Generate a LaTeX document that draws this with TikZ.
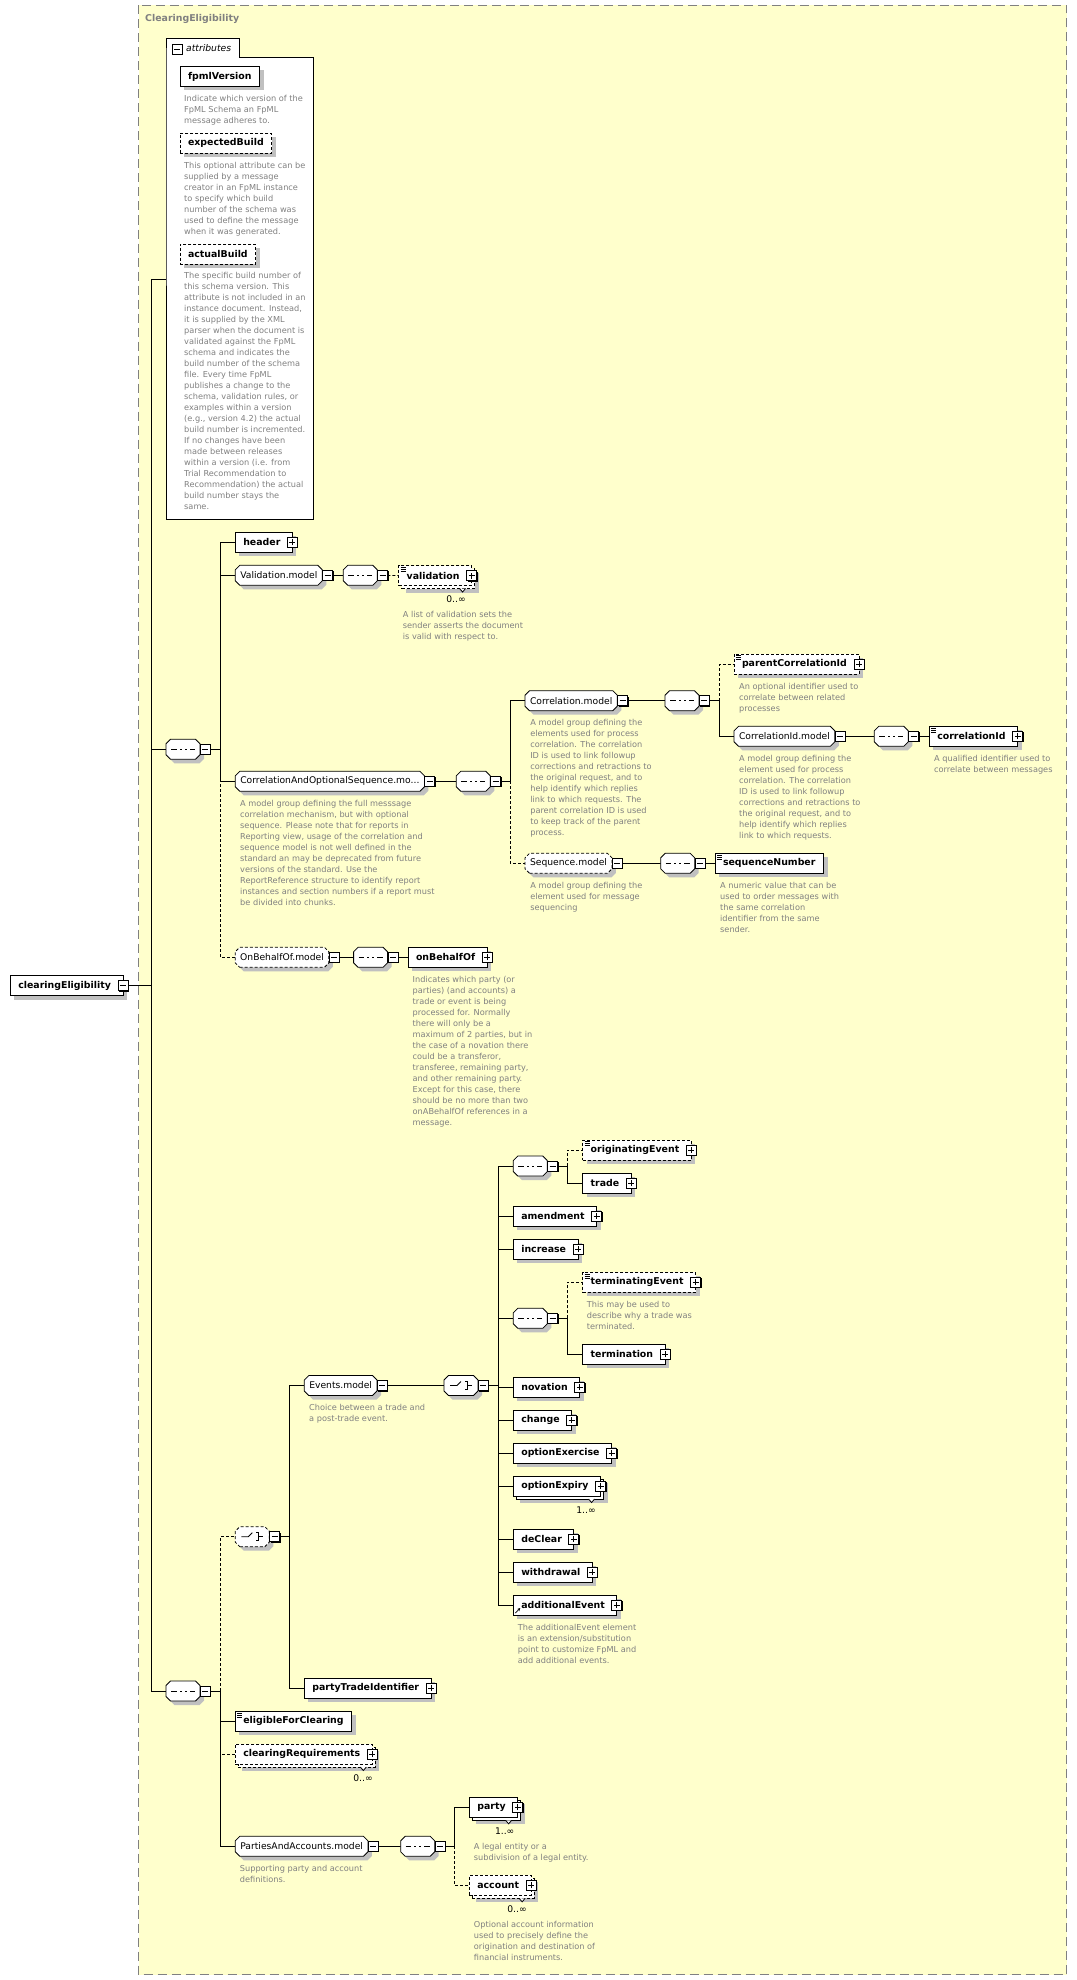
\documentclass[tikz,border=0pt]{standalone}
\usepackage{fontspec}
\setmainfont{DejaVu Sans}
\usetikzlibrary{shadows,arrows.meta}

\definecolor{bgyellow}{HTML}{FFFFCC}
\definecolor{shgray}{HTML}{C0C0C0}
\definecolor{txgray}{HTML}{808080}
\newcommand\elemfont{\fontsize{9.4pt}{11pt}\selectfont\bfseries}
\newcommand\modelfont{\fontsize{9.2pt}{11pt}\selectfont}
\newcommand\notefont{\fontsize{8.2pt}{11pt}\selectfont}
\pgfdeclarelayer{back}
\pgfdeclarelayer{wires}
\pgfsetlayers{back,wires,main}

% octagon used for model groups and compositors
\makeatletter
\newdimen\octL \newdimen\octR \newdimen\octB \newdimen\octT
\pgfdeclareshape{octbox}{%
  \inheritsavedanchors[from=rectangle]%
  \inheritanchorborder[from=rectangle]%
  \inheritanchor[from=rectangle]{center}%
  \inheritanchor[from=rectangle]{north}%
  \inheritanchor[from=rectangle]{south}%
  \inheritanchor[from=rectangle]{east}%
  \inheritanchor[from=rectangle]{west}%
  \inheritanchor[from=rectangle]{north east}%
  \inheritanchor[from=rectangle]{north west}%
  \inheritanchor[from=rectangle]{south east}%
  \inheritanchor[from=rectangle]{south west}%
  \inheritanchor[from=rectangle]{text}%
  \inheritanchor[from=rectangle]{base}%
  \inheritanchor[from=rectangle]{mid}%
  \backgroundpath{%
    \southwest \octL=\pgf@x \octB=\pgf@y
    \northeast \octR=\pgf@x \octT=\pgf@y
    \pgfpathmoveto{\pgfqpoint{\dimexpr\octL+4.5pt\relax}{\octB}}%
    \pgfpathlineto{\pgfqpoint{\dimexpr\octR-4.5pt\relax}{\octB}}%
    \pgfpathlineto{\pgfqpoint{\octR}{\dimexpr\octB+4.5pt\relax}}%
    \pgfpathlineto{\pgfqpoint{\octR}{\dimexpr\octT-4.5pt\relax}}%
    \pgfpathlineto{\pgfqpoint{\dimexpr\octR-4.5pt\relax}{\octT}}%
    \pgfpathlineto{\pgfqpoint{\dimexpr\octL+4.5pt\relax}{\octT}}%
    \pgfpathlineto{\pgfqpoint{\octL}{\dimexpr\octT-4.5pt\relax}}%
    \pgfpathlineto{\pgfqpoint{\octL}{\dimexpr\octB+4.5pt\relax}}%
    \pgfpathclose
  }%
}
\makeatother

\tikzset{
  boxshadow/.style={general shadow={shadow xshift=4pt,shadow yshift=-4pt,fill=shgray}},
  repeated/.style={general shadow={shadow xshift=7pt,shadow yshift=-7pt,fill=shgray},
                   general shadow={shadow xshift=3pt,shadow yshift=-3pt,draw,fill=white}},
  optional/.style={dash pattern=on 3pt off 2pt},
  xsdbox/.style={draw, fill=white, line width=.8pt, outer sep=0pt, minimum height=20pt, inner xsep=8pt, inner ysep=0pt, anchor=west},
  elem/.style={xsdbox, boxshadow, font=\elemfont},
  elemrep/.style={xsdbox, repeated, font=\elemfont},
  modelgrp/.style={xsdbox, boxshadow, shape=octbox, inner xsep=5pt, font=\modelfont, withminus},
  plusicon/.style={draw, solid, fill=white, line width=.8pt, minimum size=10pt, inner sep=0pt, anchor=center,
    general shadow={shadow xshift=1pt,shadow yshift=-1pt,fill=black},
    path picture={\draw[line width=.8pt] ([xshift=-3pt]path picture bounding box.center) -- ([xshift=3pt]path picture bounding box.center)
      ([yshift=-3pt]path picture bounding box.center) -- ([yshift=3pt]path picture bounding box.center);}},
  minusicon/.style={draw, solid, fill=white, line width=.8pt, minimum size=10pt, inner sep=0pt,
    general shadow={shadow xshift=1pt,shadow yshift=-1pt,fill=black},
    path picture={\draw[line width=.8pt] ([xshift=-3pt]path picture bounding box.center) -- ([xshift=3pt]path picture bounding box.center);}},
  withplus/.style={execute at end node=\hspace*{4pt},
    append after command={\pgfextra{\let\hostnode\tikzlastnode} node[plusicon] at (\hostnode.east) {}}},
  withminus/.style={append after command={\pgfextra{\let\hostnode\tikzlastnode} node[minusicon, anchor=west] at (\hostnode.east) {}}},
  rootminus/.style={execute at end node=\hspace*{4pt},
    append after command={\pgfextra{\let\hostnode\tikzlastnode} node[minusicon, anchor=center] at (\hostnode.east) {}}},
  simpletype/.style={path picture={\draw[solid, line width=.6pt]
      ([shift={(2pt,-1.5pt)}]path picture bounding box.north west) -- ++(5pt,0)
      ([shift={(2pt,-3.5pt)}]path picture bounding box.north west) -- ++(5pt,0)
      ([shift={(2pt,-5.5pt)}]path picture bounding box.north west) -- ++(5pt,0);}},
  seqicon/.style={modelgrp, minimum width=34pt, inner xsep=0pt, path picture={
      \draw[solid, line width=.8pt] ([xshift=-12pt]path picture bounding box.center) -- ([xshift=12pt]path picture bounding box.center);
      \fill ([shift={(-6.5pt,-1.5pt)}]path picture bounding box.center) rectangle ++(3pt,3pt);
      \fill ([shift={(-1.5pt,-1.5pt)}]path picture bounding box.center) rectangle ++(3pt,3pt);
      \fill ([shift={(3.5pt,-1.5pt)}]path picture bounding box.center) rectangle ++(3pt,3pt);}},
  choiceicon/.style={modelgrp, minimum width=34pt, inner xsep=0pt, path picture={
      \draw[solid, line width=.8pt] ([xshift=-11pt]path picture bounding box.center) -- ([xshift=-4pt]path picture bounding box.center)
        -- ([shift={(0pt,4pt)}]path picture bounding box.center);
      \draw[solid, line width=.8pt] ([shift={(4pt,4pt)}]path picture bounding box.center) -- ++(2pt,0) -- ++(0,-8pt) -- ++(-2pt,0)
        ([xshift=6pt]path picture bounding box.center) -- ([xshift=11pt]path picture bounding box.center);
      \fill ([shift={(0.6pt,2.6pt)}]path picture bounding box.center) rectangle ++(2.8pt,2.8pt);
      \fill ([shift={(0.6pt,-1.4pt)}]path picture bounding box.center) rectangle ++(2.8pt,2.8pt);
      \fill ([shift={(0.6pt,-5.4pt)}]path picture bounding box.center) rectangle ++(2.8pt,2.8pt);}},
  notch/.style={line width=.8pt, fill=white},
  note/.style={anchor=north west, align=left, inner sep=0pt, font=\notefont, text=txgray},
  card/.style={inner sep=0pt, font=\modelfont},
  wire/.style={line width=.8pt}
}

\begin{document}
\begin{tikzpicture}[x=1pt,y=-1pt]
  \useasboundingbox (0,0) rectangle (1076,1980);

  % frame of the complex type
  \begin{pgfonlayer}{back}
    \fill[white] (0,0) rectangle (1076,1980);
    \draw[txgray, line width=.8pt, dash pattern=on 9pt off 5pt, fill=bgyellow] (138.5,5.5) rectangle (1066.5,1974.5);
  \end{pgfonlayer}
  \node[anchor=west, font=\elemfont, text=txgray, inner sep=0pt] (title) at (145,19) {ClearingEligibility};

  % root
  \node[elem, rootminus] (root) at (10.3,985.5) {clearingEligibility};

  % attributes
  \draw[line width=.8pt, fill=white] (166,57) -- (166,38) -- (239,38) -- (239,57) -- (313,57) -- (313,519) -- (166,519) -- cycle;
  \node[minusicon] (attrsign) at (177,49) {};
  \node[anchor=west, font=\modelfont\itshape, inner sep=0pt] (attrtab) at (186,48) {attributes};
  \coordinate (attrs) at (166,279);

  \node[elem] (fpml) at (180,76.5) {fpmlVersion};
  \node[note] (fpmlnote) at (184,95.5) {Indicate which version of the\\FpML Schema an FpML\\message adheres to.};
  \node[elem, optional] (expb) at (180,143) {expectedBuild};
  \node[note] (expbnote) at (184,162.5) {This optional attribute can be\\supplied by a message\\creator in an FpML instance\\to specify which build\\number of the schema was\\used to define the message\\when it was generated.};
  \node[elem, optional] (actb) at (180,254) {actualBuild};
  \node[note] (actbnote) at (184,272.5) {The specific build number of\\this schema version. This\\attribute is not included in an\\instance document. Instead,\\it is supplied by the XML\\parser when the document is\\validated against the FpML\\schema and indicates the\\build number of the schema\\file. Every time FpML\\publishes a change to the\\schema, validation rules, or\\examples within a version\\(e.g., version 4.2) the actual\\build number is incremented.\\If no changes have been\\made between releases\\within a version (i.e. from\\Trial Recommendation to\\Recommendation) the actual\\build number stays the\\same.};

  % first sequence
  \node[seqicon] (seqA) at (166,749.3) {};
  \coordinate (busA) at (220.3,749.3);

  \node[elem, withplus] (hdr) at (235.3,542.3) {header};

  \node[modelgrp] (valm) at (235.3,575.3) {Validation.model};
  \node[seqicon] (valseq) at (343.3,575.3) {};
  \node[elemrep, optional, simpletype, withplus] (val) at (398.7,575.5) {validation};
  \draw[notch] ([shift={(-12pt,-3pt)}]val.south east) -- ++(3pt,-3.5pt) -- ++(3pt,3.5pt);
  \node[card] (valcard) at (456,599.3) {0..∞};
  \node[note] (valnote) at (402.7,611.2) {A list of validation sets the\\sender asserts the document\\is valid with respect to.};

  \node[modelgrp] (caos) at (235.3,781.3) {CorrelationAndOptionalSequence.mo...};
  \node[note] (caosnote) at (240,800.2) {A model group defining the full messsage\\correlation mechanism, but with optional\\sequence. Please note that for reports in\\Reporting view, usage of the correlation and\\sequence model is not well defined in the\\standard an may be deprecated from future\\versions of the standard. Use the\\ReportReference structure to identify report\\instances and section numbers if a report must\\be divided into chunks.};
  \node[seqicon] (caosseq) at (456.3,781.3) {};
  \coordinate (busC) at (510.3,781.3);

  \node[modelgrp] (corm) at (525,700.7) {Correlation.model};
  \node[note] (cormnote) at (530.1,719.2) {A model group defining the\\elements used for process\\correlation. The correlation\\ID is used to link followup\\corrections and retractions to\\the original request, and to\\help identify which replies\\link to which requests. The\\parent correlation ID is used\\to keep track of the parent\\process.};
  \node[seqicon] (corseq) at (665,700.7) {};
  \coordinate (busD) at (719.3,700.7);
  \node[elem, optional, simpletype, withplus] (pcid) at (734,664) {parentCorrelationId};
  \node[note] (pcidnote) at (739,683.2) {An optional identifier used to\\correlate between related\\processes};
  \node[modelgrp] (cidm) at (734,736.3) {CorrelationId.model};
  \node[note] (cidmnote) at (739,755.2) {A model group defining the\\element used for process\\correlation. The correlation\\ID is used to link followup\\corrections and retractions to\\the original request, and to\\help identify which replies\\link to which requests.};
  \node[seqicon] (cidseq) at (874.3,736.3) {};
  \node[elem, simpletype, withplus] (cid) at (929.3,736.3) {correlationId};
  \node[note] (cidnote) at (934,755.2) {A qualified identifier used to\\correlate between messages};

  \node[modelgrp, optional] (seqm) at (525,863.3) {Sequence.model};
  \node[note] (seqmnote) at (530.1,882.2) {A model group defining the\\element used for message\\sequencing};
  \node[seqicon] (seqseq) at (660.7,863.3) {};
  \node[elem, simpletype] (seqn) at (715,863.3) {sequenceNumber};
  \node[note] (seqnnote) at (720,882.2) {A numeric value that can be\\used to order messages with\\the same correlation\\identifier from the same\\sender.};

  \node[modelgrp, optional] (obom) at (235.2,957.3) {OnBehalfOf.model};
  \node[seqicon] (oboseq) at (353.6,957.3) {};
  \node[elem, withplus] (obo) at (408,957.3) {onBehalfOf};
  \node[note] (obonote) at (412.5,976.2) {Indicates which party (or\\parties) (and accounts) a\\trade or event is being\\processed for. Normally\\there will only be a\\maximum of 2 parties, but in\\the case of a novation there\\could be a transferor,\\transferee, remaining party,\\and other remaining party.\\Except for this case, there\\should be no more than two\\onABehalfOf references in a\\message.};

  % second sequence
  \node[seqicon] (seqB) at (166,1691) {};
  \coordinate (busB) at (220.3,1691);

  \node[choiceicon, optional] (choiceA) at (235.3,1536.7) {};
  \coordinate (busE) at (289.3,1536.7);

  \node[modelgrp] (evm) at (304.3,1385.5) {Events.model};
  \node[note] (evmnote) at (309,1403.8) {Choice between a trade and\\a post-trade event.};
  \node[choiceicon] (choiceB) at (444,1385.5) {};
  \coordinate (busF) at (498.5,1385.5);

  \node[seqicon] (seqC) at (513.3,1166) {};
  \coordinate (busG) at (567.3,1166);
  \node[elem, optional, simpletype, withplus] (orig) at (582.7,1150) {originatingEvent};
  \node[elem, withplus] (trade) at (582.7,1183.3) {trade};
  \node[elem, withplus] (amend) at (513.3,1216) {amendment};
  \node[elem, withplus] (incr) at (513.3,1249.3) {increase};
  \node[seqicon] (seqD) at (513.3,1318.3) {};
  \coordinate (busH) at (567.3,1318.3);
  \node[elem, optional, simpletype, withplus] (term) at (582.7,1282.3) {terminatingEvent};
  \node[note] (termnote) at (586.7,1300.8) {This may be used to\\describe why a trade was\\terminated.};
  \node[elem, withplus] (termn) at (582.7,1354.3) {termination};
  \node[elem, withplus] (nov) at (513.3,1387.3) {novation};
  \node[elem, withplus] (chg) at (513.3,1420.3) {change};
  \node[elem, withplus] (optex) at (513.3,1453.3) {optionExercise};
  \node[elemrep, withplus] (optexp) at (513.3,1486) {optionExpiry};
  \draw[notch] ([shift={(-12pt,-3pt)}]optexp.south east) -- ++(3pt,-3.5pt) -- ++(3pt,3.5pt);
  \node[card] (optexpcard) at (586,1510) {1..∞};
  \node[elem, withplus] (declr) at (513.3,1539) {deClear};
  \node[elem, withplus] (wdr) at (513.3,1572.3) {withdrawal};
  \node[elem, withplus] (addev) at (513.3,1605) {additionalEvent};
  \draw[line width=.8pt, -{Stealth[length=3pt,width=3pt]}] ([shift={(2pt,2pt)}]addev.south west) -- ++(5pt,5pt);
  \node[note] (addevnote) at (517.7,1623.8) {The additionalEvent element\\is an extension/substitution\\point to customize FpML and\\add additional events.};

  \node[elem, withplus] (pti) at (304.3,1688.3) {partyTradeIdentifier};
  \node[elem, simpletype] (efc) at (235.3,1721.3) {eligibleForClearing};
  \node[elemrep, optional, withplus] (creq) at (235.3,1754) {clearingRequirements};
  \draw[notch] ([shift={(-12pt,-3pt)}]creq.south east) -- ++(3pt,-3.5pt) -- ++(3pt,3.5pt);
  \node[card] (creqcard) at (363,1778) {0..∞};

  \node[modelgrp] (pam) at (235.3,1846.3) {PartiesAndAccounts.model};
  \node[note] (pamnote) at (239.7,1865.2) {Supporting party and account\\definitions.};
  \node[seqicon] (pamseq) at (400.7,1846.3) {};
  \coordinate (busI) at (454.3,1846.3);
  \node[elemrep, withplus] (party) at (469.3,1807.3) {party};
  \draw[notch] ([shift={(-12pt,-3pt)}]party.south east) -- ++(3pt,-3.5pt) -- ++(3pt,3.5pt);
  \node[card] (partycard) at (504.7,1831) {1..∞};
  \node[note] (partynote) at (473.7,1843.2) {A legal entity or a\\subdivision of a legal entity.};
  \node[elemrep, optional, withplus] (acct) at (469.3,1885.3) {account};
  \draw[notch] ([shift={(-12pt,-3pt)}]acct.south east) -- ++(3pt,-3.5pt) -- ++(3pt,3.5pt);
  \node[card] (acctcard) at (517,1909) {0..∞};
  \node[note] (acctnote) at (473.7,1921.2) {Optional account information\\used to precisely define the\\origination and destination of\\financial instruments.};

  % connectors
  \begin{pgfonlayer}{wires}
    \draw[wire] (root.east) -- (151,985.5) coordinate (trunk);
    \draw[wire] (trunk) |- (attrs);
    \draw[wire] (trunk) |- (seqA.west);
    \draw[wire] (trunk) |- (seqB.west);

    \draw[wire] (seqA.east) -- (busA);
    \draw[wire] (busA) |- (hdr.west);
    \draw[wire] (busA) |- (valm.west);
    \draw[wire] (busA) |- (caos.west);
    \draw[wire, optional] (busA) |- (obom.west);
    \draw[wire] (valm.east) -- (valseq.west);
    \draw[wire, optional] (valseq.east) -- (val.west);
    \draw[wire] (caos.east) -- (caosseq.west);
    \draw[wire] (caosseq.east) -- (busC);
    \draw[wire] (busC) |- (corm.west);
    \draw[wire, optional] (busC) |- (seqm.west);
    \draw[wire] (corm.east) -- (corseq.west);
    \draw[wire] (corseq.east) -- (busD);
    \draw[wire, optional] (busD) |- (pcid.west);
    \draw[wire] (busD) |- (cidm.west);
    \draw[wire] (cidm.east) -- (cidseq.west);
    \draw[wire] (cidseq.east) -- (cid.west);
    \draw[wire] (seqm.east) -- (seqseq.west);
    \draw[wire] (seqseq.east) -- (seqn.west);
    \draw[wire] (obom.east) -- (oboseq.west);
    \draw[wire] (oboseq.east) -- (obo.west);

    \draw[wire] (seqB.east) -- (busB);
    \draw[wire, optional] (busB) |- (choiceA.west);
    \draw[wire] (busB) |- (efc.west);
    \draw[wire, optional] (busB) |- (creq.west);
    \draw[wire] (busB) |- (pam.west);
    \draw[wire] (choiceA.east) -- (busE);
    \draw[wire] (busE) |- (evm.west);
    \draw[wire] (busE) |- (pti.west);
    \draw[wire] (evm.east) -- (choiceB.west);
    \draw[wire] (choiceB.east) -- (busF);
    \draw[wire] (busF) |- (seqC.west);
    \draw[wire] (busF) |- (amend.west);
    \draw[wire] (busF) |- (incr.west);
    \draw[wire] (busF) |- (seqD.west);
    \draw[wire] (busF) |- (nov.west);
    \draw[wire] (busF) |- (chg.west);
    \draw[wire] (busF) |- (optex.west);
    \draw[wire] (busF) |- (optexp.west);
    \draw[wire] (busF) |- (declr.west);
    \draw[wire] (busF) |- (wdr.west);
    \draw[wire] (busF) |- (addev.west);
    \draw[wire] (seqC.east) -- (busG);
    \draw[wire, optional] (busG) |- (orig.west);
    \draw[wire] (busG) |- (trade.west);
    \draw[wire] (seqD.east) -- (busH);
    \draw[wire, optional] (busH) |- (term.west);
    \draw[wire] (busH) |- (termn.west);
    \draw[wire] (pam.east) -- (pamseq.west);
    \draw[wire] (pamseq.east) -- (busI);
    \draw[wire] (busI) |- (party.west);
    \draw[wire, optional] (busI) |- (acct.west);
  \end{pgfonlayer}
\end{tikzpicture}
\end{document}
